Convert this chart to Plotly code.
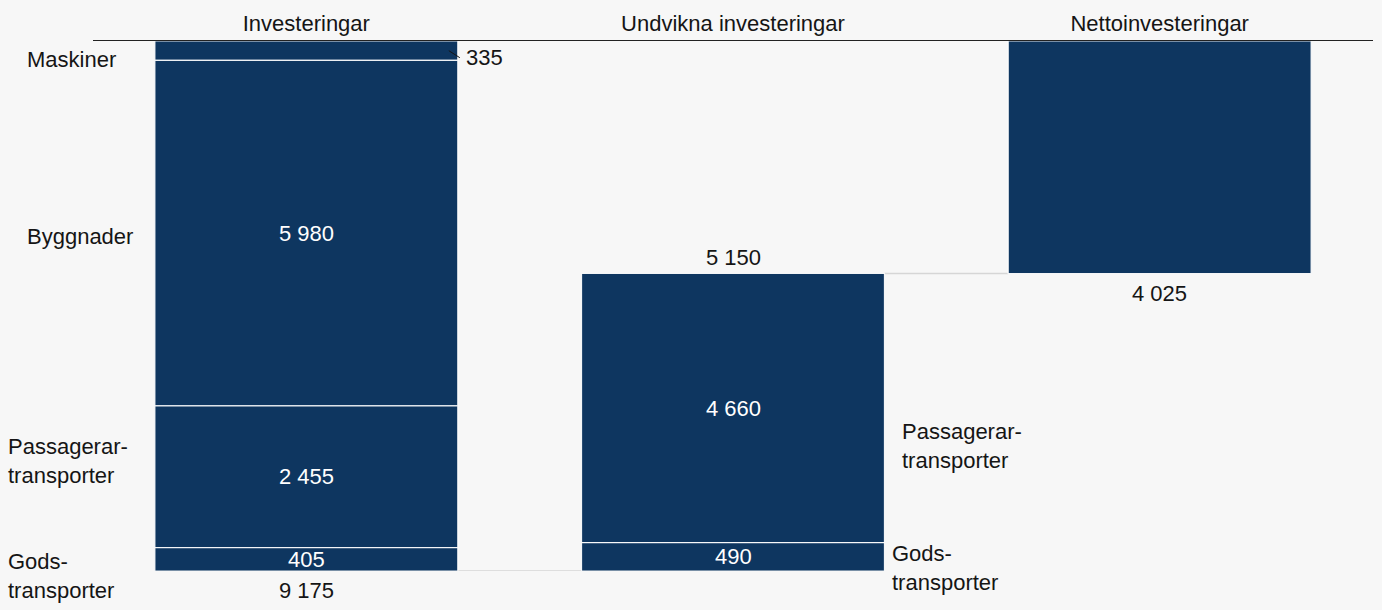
import plotly.graph_objects as go

# Columns of the bridge chart
categories = ["Investeringar", "Undvikna investeringar", "Nettoinvesteringar"]

# Investments, listed top-down as they are stacked
inv_parts = ["Maskiner", "Byggnader", "Passagerar-<br>transporter", "Gods-<br>transporter"]
inv_values = [335, 5980, 2455, 405]

# Avoided investments, listed top-down
avoided_parts = ["Passagerar-<br>transporter", "Gods-<br>transporter"]
avoided_values = [4660, 490]

total = sum(inv_values)
avoided = sum(avoided_values)
net = total - avoided

BAR = "#0e3660"
BG = "#f7f7f7"
INK = "#151515"
FONT = "Liberation Sans, Arial, sans-serif"
FS = 22
W = 0.71


def fmt(v):
    return f"{v:,}".replace(",", " ")


xs, ys, bases = [], [], []
# column 0: stacked downward from the top line
b = 0
inv_bases = []
for v in inv_values:
    xs.append(0); ys.append(v); bases.append(b); inv_bases.append(b)
    b += v
# column 1: hangs from the net level down to the total
b = net
av_bases = []
for v in avoided_values:
    xs.append(1); ys.append(v); bases.append(b); av_bases.append(b)
    b += v
# column 2: net result
xs.append(2); ys.append(net); bases.append(0)

fig = go.Figure()
fig.add_bar(
    x=xs, y=ys, base=bases, width=W,
    marker=dict(color=BAR, line=dict(color="rgba(255,255,255,0.9)", width=1.2)),
    hoverinfo="skip", showlegend=False,
)

ann = []
shapes = []

# value labels inside the segments (the small top segment is labelled outside)
for i, (v, b0) in enumerate(zip(inv_values, inv_bases)):
    mid = b0 + v / 2
    if i == 0:
        ann.append(dict(x=W / 2, y=mid, xref="x", yref="y", text=fmt(v),
                        showarrow=False, xanchor="left", yanchor="middle",
                        xshift=6, yshift=-7, font=dict(color=INK, size=FS)))
        shapes.append(dict(type="line", xref="x", yref="y",
                           xsizemode="pixel", ysizemode="pixel",
                           xanchor=W / 2, yanchor=mid,
                           x0=-9, x1=2, y0=0, y1=-7,
                           line=dict(color=INK, width=1)))
    else:
        ann.append(dict(x=0, y=mid, xref="x", yref="y", text=fmt(v),
                        showarrow=False, font=dict(color="white", size=FS)))
for v, b0 in zip(avoided_values, av_bases):
    ann.append(dict(x=1, y=b0 + v / 2, xref="x", yref="y", text=fmt(v),
                    showarrow=False, font=dict(color="white", size=FS)))

# totals
ann.append(dict(x=0, y=total, xref="x", yref="y", text=fmt(total), showarrow=False,
                yshift=-19, font=dict(color=INK, size=FS)))
ann.append(dict(x=1, y=net, xref="x", yref="y", text=fmt(avoided), showarrow=False,
                yshift=16, font=dict(color=INK, size=FS)))
ann.append(dict(x=2, y=net, xref="x", yref="y", text=fmt(net), showarrow=False,
                yshift=-20, font=dict(color=INK, size=FS)))

# category names left of the first column
left_x = [-0.0532, -0.0532, -0.068, -0.068]
left_shift = [-9, -3, 16, -17]
for name, v, b0, px, sh in zip(inv_parts, inv_values, inv_bases, left_x, left_shift):
    ann.append(dict(x=px, y=b0 + v / 2, xref="paper", yref="y", text=name,
                    showarrow=False, xanchor="left", align="left", yshift=sh,
                    font=dict(color=INK, size=FS)))

# category names right of the avoided column
right_shift = [(16, -38), (6, -11)]
for name, v, b0, (xsh, ysh) in zip(avoided_parts, avoided_values, av_bases, right_shift):
    ann.append(dict(x=1 + W / 2, y=b0 + v / 2, xref="x", yref="y", text=name,
                    showarrow=False, xanchor="left", align="left",
                    xshift=xsh, yshift=ysh, font=dict(color=INK, size=FS)))

# connectors between columns
conn = dict(color="#d6d6d6", width=1.5)
shapes.append(dict(type="line", xref="x", yref="y", x0=W / 2, x1=1 - W / 2,
                   y0=total, y1=total, line=conn, layer="below"))
shapes.append(dict(type="line", xref="x", yref="y", x0=1 + W / 2, x1=2 - W / 2,
                   y0=net, y1=net, line=conn, layer="below"))

fig.update_layout(
    width=1382, height=610,
    margin=dict(l=93, r=9, t=41, b=39),
    paper_bgcolor=BG, plot_bgcolor=BG,
    font=dict(family=FONT, size=FS, color=INK),
    barmode="overlay",
    annotations=ann, shapes=shapes,
    xaxis=dict(
        range=[-0.5, 2.5], side="top",
        tickmode="array", tickvals=[0, 1, 2], ticktext=categories,
        showline=True, linecolor="#222222", linewidth=1.2,
        showgrid=False, zeroline=False, ticks="",
        tickfont=dict(size=FS, color=INK),
    ),
    yaxis=dict(
        range=[total, 0], visible=False, showgrid=False, zeroline=False,
    ),
)

fig.write_html("out.html")
